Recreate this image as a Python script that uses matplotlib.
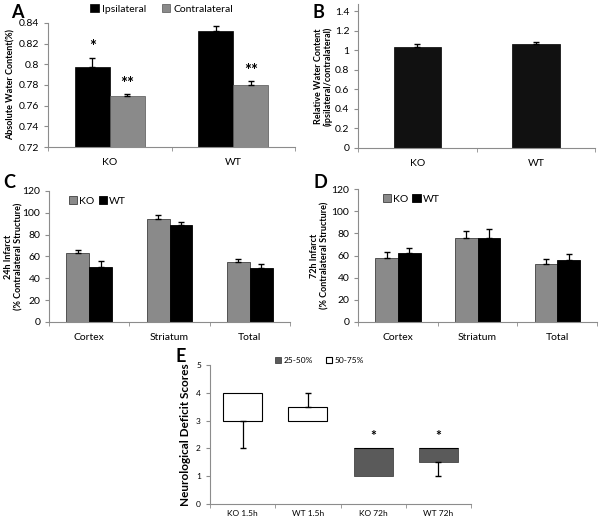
import numpy as np
import matplotlib
matplotlib.use("Agg")
import matplotlib.pyplot as plt

plt.rcParams['font.family'] = ['Lato', 'DejaVu Sans']

# --- Data ---
groups_ab = ["KO", "WT"]
ipsi = [0.797, 0.832]
ipsi_err = [0.009, 0.005]
contra = [0.769, 0.780]
contra_err = [0.002, 0.004]
ipsi_stars = ["*", ""]
contra_stars = ["**", "**"]

relative = [1.04, 1.07]
relative_err = [0.025, 0.02]

regions = ["Cortex", "Striatum", "Total"]
ko_24h = [63, 94, 55]
ko_24h_err = [3, 4, 3]
wt_24h = [50, 89, 49]
wt_24h_err = [6, 3, 4]

ko_72h = [58, 76, 52]
ko_72h_err = [5, 6, 5]
wt_72h = [62, 76, 56]
wt_72h_err = [5, 8, 5]

score_groups = ["KO 1.5h", "WT 1.5h", "KO 72h", "WT 72h"]
score_min = [2, 3, 1, 1]
score_q1 = [3, 3, 1, 1.5]
score_median = [3, 3, 2, 2]
score_q3 = [4, 3.5, 2, 2]
score_max = [4, 4, 2, 2]
score_stars = ["", "", "*", "*"]

GRAY = "#8a8a8a"
DARK = "#5a5a5a"
AXIS = "#8c8c8c"
FS = 7.5


def style_axis(ax, n_cats, ylim, yticks):
    for s in ["top", "right"]:
        ax.spines[s].set_visible(False)
    for s in ["left", "bottom"]:
        ax.spines[s].set_color(AXIS)
        ax.spines[s].set_linewidth(0.8)
    ax.set_xlim(-0.5, n_cats - 0.5)
    ax.set_ylim(*ylim)
    ax.set_yticks(yticks)
    ax.yaxis.set_major_formatter(matplotlib.ticker.FuncFormatter(lambda v, p: f"{v:g}"))
    ax.set_xticks(np.arange(n_cats))
    ax.set_xticks(np.arange(n_cats + 1) - 0.5, minor=True)
    ax.tick_params(axis="x", which="major", length=0, labelsize=FS, pad=8)
    ax.tick_params(axis="x", which="minor", length=3, color=AXIS, direction="out")
    ax.tick_params(axis="y", length=3, color=AXIS, labelsize=FS, direction="out")


def place_ylabel(ax, text, x_px, size=6.5):
    ax.set_ylabel(text, fontsize=size, fontweight="bold", linespacing=1.1)
    box = ax.get_position()
    ax.yaxis.set_label_coords(x_px / 600, box.y0 + box.height / 2, transform=fig.transFigure)


fig = plt.figure(figsize=(6, 5.2), dpi=100)

# --- A ---
axA = fig.add_axes([0.08, 0.7173, 0.412, 0.2385])
x = np.arange(len(groups_ab))
w = 0.283
axA.bar(x - w / 2, ipsi, w, color="black", edgecolor="black", linewidth=0.5, label="Ipsilateral")
axA.bar(x + w / 2, contra, w, color=GRAY, edgecolor="#555555", linewidth=0.5, label="Contralateral")
axA.errorbar(x - w / 2, ipsi, yerr=[np.zeros(2), ipsi_err], fmt="none", ecolor="black", elinewidth=0.9, capsize=2)
axA.errorbar(x + w / 2, contra, yerr=[np.zeros(2), contra_err], fmt="none", ecolor="black", elinewidth=0.9, capsize=2)
for i in range(len(groups_ab)):
    axA.text(x[i] - w / 2, ipsi[i] + ipsi_err[i] + 0.003, ipsi_stars[i], ha="center", va="bottom", fontsize=12, fontweight="bold")
    axA.text(x[i] + w / 2, contra[i] + contra_err[i] + 0.002, contra_stars[i], ha="center", va="bottom", fontsize=12, fontweight="bold")
style_axis(axA, 2, (0.72, 0.84), np.arange(0.72, 0.841, 0.02))
axA.set_xticklabels(groups_ab)
place_ylabel(axA, "Absolute Water Content(%)", 16)
axA.legend(loc="lower center", bbox_to_anchor=(0.46, 1.03), ncol=2, frameon=False, fontsize=FS,
           handlelength=0.8, handleheight=0.8, columnspacing=1.5, handletextpad=0.3, borderpad=0)
fig.text(0.018, 0.975, "A", fontsize=13, fontweight="bold", va="center")

# --- B ---
axB = fig.add_axes([0.597, 0.7154, 0.395, 0.2776])
axB.bar(x, relative, 0.4, color="#111111", edgecolor="black", linewidth=0.5)
axB.errorbar(x, relative, yerr=[np.zeros(2), relative_err], fmt="none", ecolor="black", elinewidth=0.9, capsize=2)
style_axis(axB, 2, (0, 1.48), np.arange(0, 1.41, 0.2))
axB.set_xticklabels(groups_ab)
place_ylabel(axB, "Relative Water Content\n(ipsilateral/contralateral)", 333)
fig.text(0.52, 0.975, "B", fontsize=13, fontweight="bold", va="center")


# --- C and D ---
def infarct_panel(ax, ko, ko_err, wt, wt_err, ylabel, label_x, legend_x):
    xr = np.arange(len(regions))
    bw = 0.285
    ax.bar(xr - bw / 2, ko, bw, color=GRAY, edgecolor="#404040", linewidth=0.6, label="KO")
    ax.bar(xr + bw / 2, wt, bw, color="black", edgecolor="black", linewidth=0.6, label="WT")
    ax.errorbar(xr - bw / 2, ko, yerr=[np.zeros(3), ko_err], fmt="none", ecolor="black", elinewidth=0.9, capsize=2)
    ax.errorbar(xr + bw / 2, wt, yerr=[np.zeros(3), wt_err], fmt="none", ecolor="black", elinewidth=0.9, capsize=2)
    style_axis(ax, 3, (0, 120), np.arange(0, 121, 20))
    ax.set_xticklabels(regions)
    place_ylabel(ax, ylabel, label_x)
    ax.legend(loc="upper left", bbox_to_anchor=(legend_x, 1.0), ncol=2, frameon=False, fontsize=FS,
              handlelength=0.8, handleheight=0.8, columnspacing=0.4, handletextpad=0.2, borderpad=0)


axC = fig.add_axes([0.082, 0.3808, 0.401, 0.2519])
infarct_panel(axC, ko_24h, ko_24h_err, wt_24h, wt_24h_err, "24h Infarct\n(% Contralateral Structure)", 23, 0.06)
fig.text(0.005, 0.65, "C", fontsize=13, fontweight="bold", va="center")

axD = fig.add_axes([0.597, 0.3808, 0.398, 0.2557])
infarct_panel(axD, ko_72h, ko_72h_err, wt_72h, wt_72h_err, "72h Infarct\n(% Contralateral Structure)", 329, 0.08)
fig.text(0.522, 0.65, "D", fontsize=13, fontweight="bold", va="center")

# --- E ---
axE = fig.add_axes([0.35, 0.0308, 0.435, 0.2673])
xe = np.arange(len(score_groups))
bw = 0.6
lower = np.array(score_median) - np.array(score_q1)
upper = np.array(score_q3) - np.array(score_median)
axE.bar(xe, lower, bw, bottom=score_q1, color=DARK, edgecolor="#444444", linewidth=0.6, label="25-50%")
axE.bar(xe, upper, bw, bottom=score_median, color="white", edgecolor="black", linewidth=0.8, label="50-75%")
for i in range(len(score_groups)):
    if score_min[i] < score_q1[i]:
        axE.errorbar(xe[i], score_q1[i], yerr=[[score_q1[i] - score_min[i]], [0]], fmt="none",
                     ecolor="black", elinewidth=0.9, capsize=2)
    if score_max[i] > score_q3[i]:
        axE.errorbar(xe[i], score_q3[i], yerr=[[0], [score_max[i] - score_q3[i]]], fmt="none",
                     ecolor="black", elinewidth=0.9, capsize=2)
    if score_stars[i]:
        axE.text(xe[i], score_q3[i] + 0.22, score_stars[i], ha="center", va="bottom", fontsize=10, fontweight="bold")
style_axis(axE, 4, (0, 5), np.arange(0, 6, 1))
axE.tick_params(axis="both", which="major", labelsize=6)
axE.tick_params(axis="x", which="major", pad=4)
axE.set_xticklabels(score_groups)
place_ylabel(axE, "Neurological Deficit Scores", 191, size=8.5)
axE.legend(loc="lower center", bbox_to_anchor=(0.42, 0.98), ncol=2, frameon=False, fontsize=6,
           handlelength=0.7, handleheight=0.7, columnspacing=1.6, handletextpad=0.3, borderpad=0)
fig.text(0.292, 0.315, "E", fontsize=13, fontweight="bold", va="center")

fig.savefig("out.png", dpi=100)
